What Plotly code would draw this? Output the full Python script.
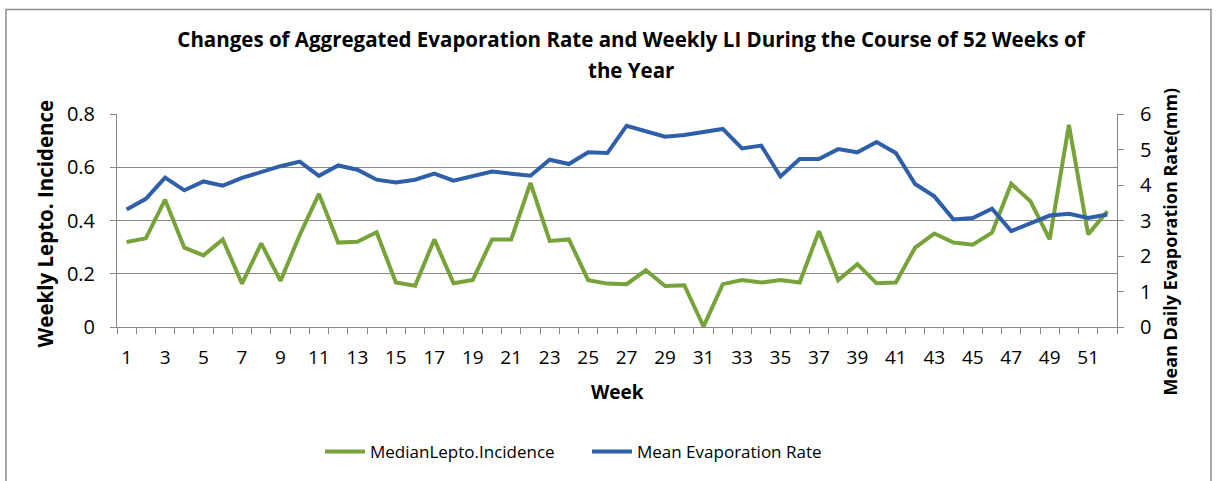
import plotly.graph_objects as go

weeks = list(range(1, 53))
median_lepto = [0.319, 0.333, 0.478, 0.298, 0.269, 0.329, 0.163, 0.314, 0.173, 0.345,
                0.500, 0.317, 0.320, 0.356, 0.167, 0.155, 0.329, 0.164, 0.177, 0.329,
                0.329, 0.541, 0.323, 0.329, 0.176, 0.163, 0.161, 0.213, 0.154, 0.157,
                0.002, 0.161, 0.176, 0.167, 0.176, 0.167, 0.360, 0.176, 0.236, 0.164,
                0.167, 0.298, 0.351, 0.317, 0.309, 0.354, 0.538, 0.472, 0.329, 0.759,
                0.348, 0.435]
mean_evap = [3.31, 3.61, 4.21, 3.85, 4.10, 3.98, 4.20, 4.37, 4.53, 4.66,
             4.26, 4.55, 4.43, 4.15, 4.07, 4.15, 4.32, 4.12, 4.26, 4.38,
             4.32, 4.26, 4.71, 4.59, 4.92, 4.90, 5.67, 5.52, 5.36, 5.41,
             5.50, 5.58, 5.03, 5.11, 4.24, 4.73, 4.73, 5.01, 4.92, 5.21,
             4.90, 4.03, 3.68, 3.03, 3.07, 3.33, 2.70, 2.92, 3.14, 3.19,
             3.07, 3.17]
left_ticks = [0, 0.2, 0.4, 0.6, 0.8]
right_ticks = [0, 1, 2, 3, 4, 5, 6]
x_labels = weeks[::2]

GREEN = "#78A33A"
BLUE = "#2F5FA9"
GRID = "#878787"
FONT = "Open Sans, sans-serif"

# plot area in pixels
W, H = 1216, 481
L, R, T, B = 117, 99, 114, 153
pw, ph = W - L - R, H - T - B


def px_x(X):
    return (X - L) / pw


def px_y(Y):
    return (H - B - Y) / ph


fig = go.Figure()
fig.add_trace(go.Scatter(x=weeks, y=median_lepto, mode="lines", name="MedianLepto.Incidence",
                         line=dict(color=GREEN, width=4), yaxis="y"))
fig.add_trace(go.Scatter(x=weeks, y=mean_evap, mode="lines", name="Mean Evaporation Rate",
                         line=dict(color=BLUE, width=4), yaxis="y2"))

fig.update_layout(
    width=W, height=H,
    margin=dict(l=L, r=R, t=T, b=B),
    paper_bgcolor="white", plot_bgcolor="white",
    font=dict(family=FONT, color="#000000", size=18),
    title=dict(text="<b>Changes of Aggregated Evaporation Rate and Weekly LI During the Course of 52 Weeks of</b>",
               x=px_x(631), xref="paper", xanchor="center",
               y=1 - 40 / H, yref="container", yanchor="middle",
               font=dict(size=20.5, family=FONT, color="#000000")),
    xaxis=dict(
        range=[weeks[0] - 0.5, weeks[-1] + 0.5],
        tickvals=x_labels, ticktext=[str(w) for w in x_labels],
        ticks="", showgrid=False, zeroline=False,
        showline=True, linecolor=GRID, linewidth=1,
        tickfont=dict(size=19), ticklabelstandoff=13,
        minor=dict(tickvals=[w - 0.5 for w in weeks] + [weeks[-1] + 0.5],
                   ticks="outside", ticklen=6, tickcolor=GRID, showgrid=False),
    ),
    yaxis=dict(
        range=[0, 0.8], tickvals=left_ticks, ticktext=[f"{v:g}" for v in left_ticks],
        ticks="outside", ticklen=6, tickcolor=GRID,
        showgrid=True, gridcolor=GRID, gridwidth=1, zeroline=False,
        showline=True, linecolor=GRID, linewidth=1,
        tickfont=dict(size=20), ticklabelstandoff=11,
    ),
    yaxis2=dict(
        range=[0, 6], tickvals=right_ticks, overlaying="y", side="right",
        ticks="outside", ticklen=6, tickcolor=GRID,
        showgrid=False, zeroline=False,
        showline=True, linecolor=GRID, linewidth=1,
        tickfont=dict(size=20), ticklabelstandoff=12,
    ),
    legend=dict(orientation="h", x=px_x(587), xanchor="center", y=px_y(452), yanchor="middle",
                font=dict(size=17), entrywidth=212, entrywidthmode="pixels",
                itemwidth=40, bgcolor="rgba(0,0,0,0)"),
    showlegend=True,
)

fig.add_annotation(text="<b>the Year</b>", xref="paper", yref="paper",
                   x=px_x(631), y=px_y(70), xanchor="center", yanchor="middle", showarrow=False,
                   font=dict(size=20.5, family=FONT, color="#000000"))
fig.add_annotation(text="<b>Week</b>", xref="paper", yref="paper",
                   x=px_x(617), y=px_y(393), xanchor="center", yanchor="middle", showarrow=False,
                   font=dict(size=19, family=FONT, color="#000000"))
fig.add_annotation(text="<b>Weekly Lepto. Incidence</b>", xref="paper", yref="paper",
                   x=px_x(45), y=px_y(224), xanchor="center", yanchor="middle", showarrow=False,
                   textangle=-90, font=dict(size=20.5, family=FONT, color="#000000"))
fig.add_annotation(text="<b>Mean Daily Evaporation Rate(mm)</b>", xref="paper", yref="paper",
                   x=px_x(1170), y=px_y(242), xanchor="center", yanchor="middle", showarrow=False,
                   textangle=-90, font=dict(size=18, family=FONT, color="#000000"))

# outer chart border
fig.add_shape(type="rect", xref="paper", yref="paper",
              x0=px_x(6), x1=px_x(1211), y0=px_y(500), y1=px_y(9),
              line=dict(color="#8C8C8C", width=1.5), fillcolor="rgba(0,0,0,0)", layer="below")

fig.write_html("out.html", config={"displayModeBar": False},
               post_script="document.body.style.margin='0px';")
